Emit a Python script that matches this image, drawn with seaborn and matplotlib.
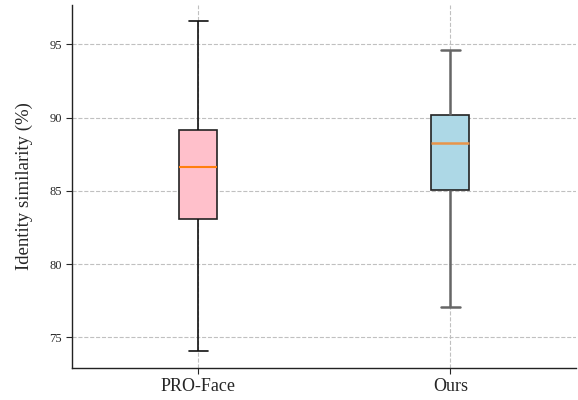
import matplotlib
matplotlib.use("Agg")
import matplotlib.pyplot as plt
import seaborn as sns
import numpy as np
import pandas as pd

# Five-number summaries: min, Q1, median, Q3, max
methods = ["PRO-Face", "Ours"]
pro_face = [74.04, 83.05, 86.6, 89.13, 96.57]
ours = [77.1, 85.03, 88.24, 90.2, 94.6]
box_colors = ["pink", "lightblue"]
yticks = [75, 80, 85, 90, 95]

df = pd.DataFrame({
    "method": [methods[0]] * len(pro_face) + [methods[1]] * len(ours),
    "value": pro_face + ours,
})

sns.set_style("white")
plt.rcParams["font.family"] = ["Liberation Serif", "DejaVu Serif"]

fig, ax = plt.subplots(figsize=(5.78, 4.0), dpi=100)
sns.boxplot(data=df, x="method", y="value", hue="method", palette=box_colors,
            order=methods, hue_order=methods, width=0.15, whis=(0, 100),
            saturation=1, linewidth=1.2, linecolor="#222222", legend=False, ax=ax,
            medianprops=dict(color="#ff7f0e", linewidth=1.5),
            whiskerprops=dict(color="#111111", linewidth=1.2),
            capprops=dict(color="#111111", linewidth=1.2),
            boxprops=dict(edgecolor="#222222", linewidth=1.2))

# second box whiskers/caps drawn in gray, slightly thicker
for ln in ax.lines:
    xd = np.asarray(ln.get_xdata(), dtype=float)
    if len(xd) and abs(xd.mean() - 1) < 0.2:
        c = matplotlib.colors.to_hex(ln.get_color())
        if c != "#ff7f0e":
            ln.set_color("#666666")
            ln.set_linewidth(1.8)
        else:
            ln.set_color("#e8954a")
            ln.set_linewidth(1.8)

ax.set_yticks(yticks)
ax.grid(True, linestyle="--", color="#c0c0c0", linewidth=0.8)
ax.set_axisbelow(True)
sns.despine(ax=ax)
ax.spines["left"].set_linewidth(1.0)
ax.spines["bottom"].set_linewidth(1.0)
ax.spines["left"].set_color("#222222")
ax.spines["bottom"].set_color("#222222")
ax.tick_params(axis="y", labelsize=9, direction="out", length=4, left=True)
ax.tick_params(axis="x", labelsize=13, direction="out", length=4, bottom=True)
ax.set_xlabel("")
ax.set_ylabel("Identity similarity (%)", fontsize=13.5, labelpad=12)
ax.set_xlim(-0.5, 1.5)

fig.subplots_adjust(left=0.125, right=0.997, top=0.988, bottom=0.08)
fig.savefig("out.png", dpi=100)
